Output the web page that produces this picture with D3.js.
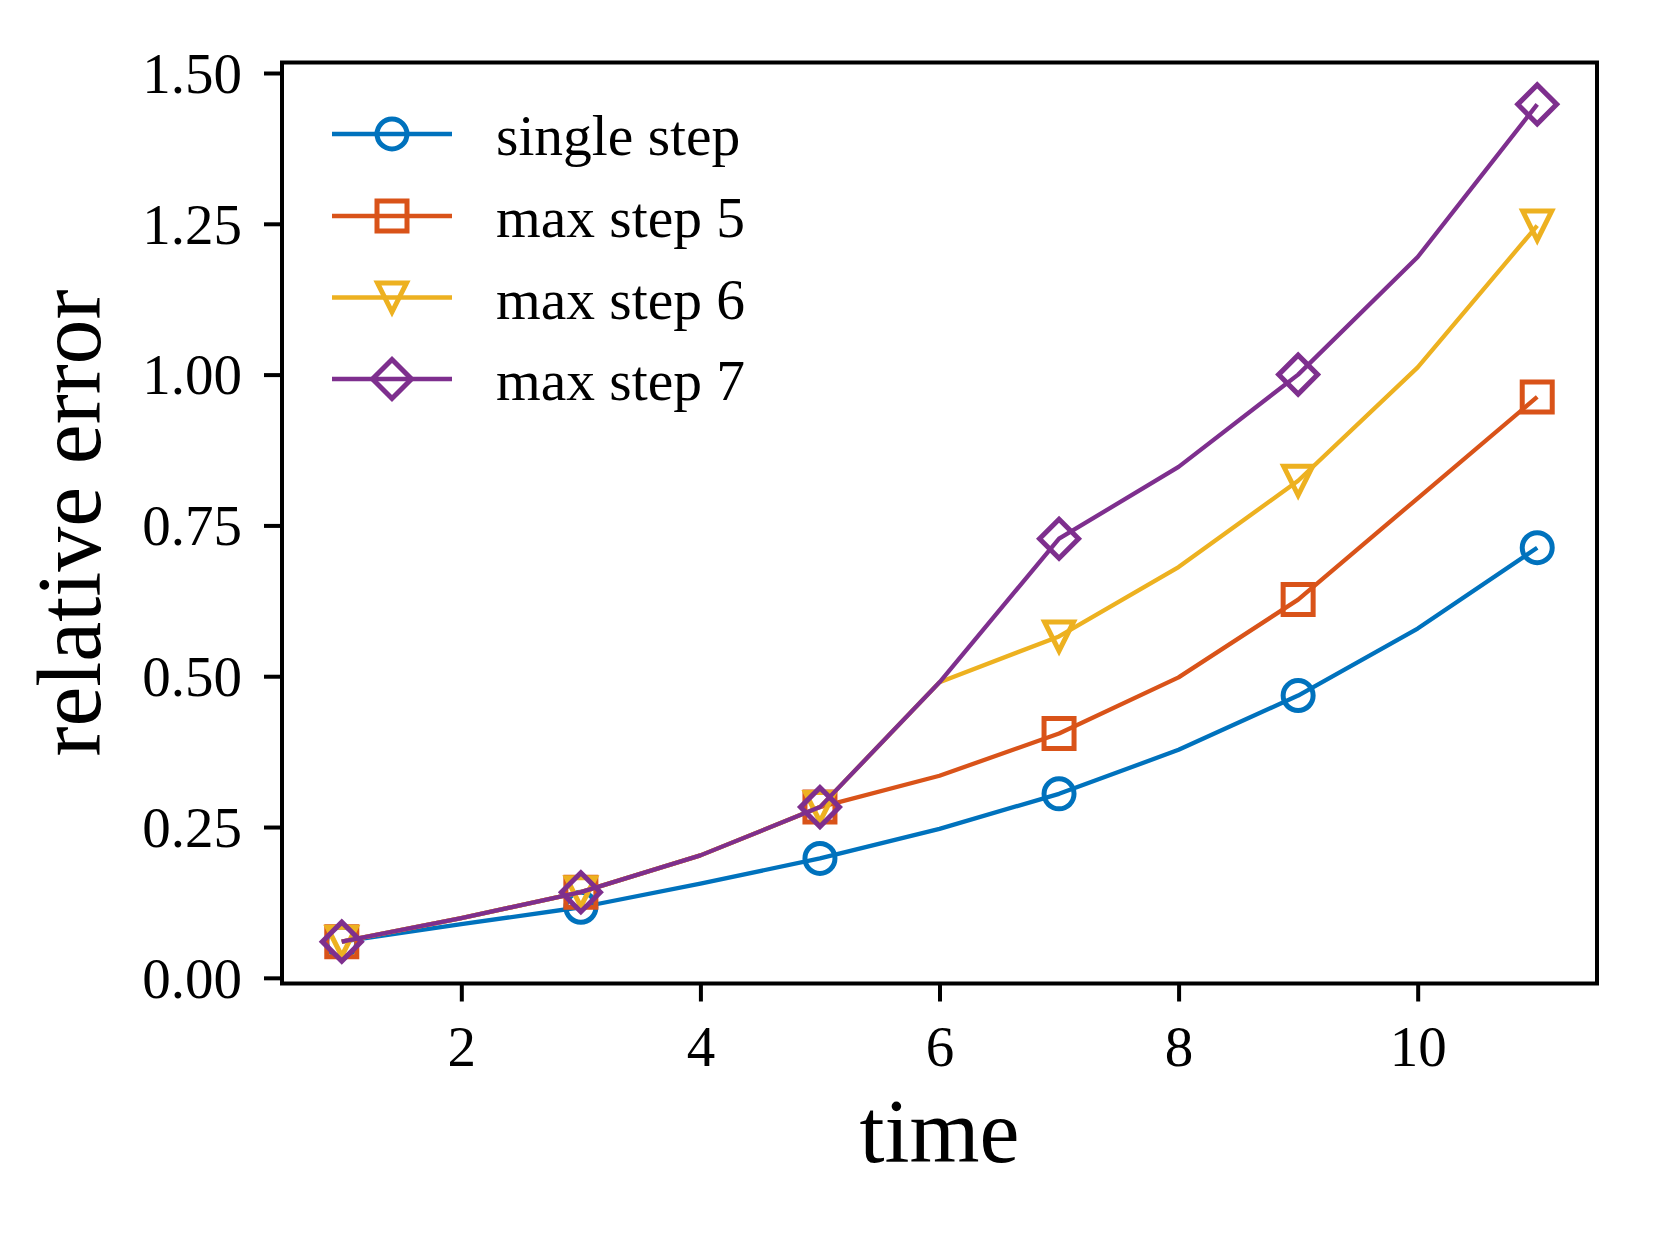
<!DOCTYPE html>
<html>
<head>
<meta charset="utf-8">
<script src="https://cdn.jsdelivr.net/npm/d3@7"></script>
<style>
  html, body { margin: 0; padding: 0; background: #fff; }
  svg { display: block; }
  text { font-family: "Liberation Serif", "Times New Roman", serif; fill: #000; }
</style>
</head>
<body>
<svg id="chart" width="1661" height="1246"></svg>
<script>
// ---- data ----
const time = [1, 2, 3, 4, 5, 6, 7, 8, 9, 10, 11];
const singleStep = [0.060, 0.089, 0.117, 0.156, 0.198, 0.247, 0.305, 0.378, 0.468, 0.579, 0.713];
const maxStep5   = [0.060, 0.099, 0.142, 0.203, 0.283, 0.335, 0.405, 0.498, 0.627, 0.795, 0.963];
const maxStep6   = [0.060, 0.099, 0.142, 0.203, 0.283, 0.490, 0.566, 0.681, 0.824, 1.012, 1.247];
const maxStep7   = [0.060, 0.099, 0.142, 0.203, 0.283, 0.490, 0.728, 0.847, 1.000, 1.195, 1.448];
const seriesNames = ["single step", "max step 5", "max step 6", "max step 7"];
const seriesColors = ["#0072BD", "#D95319", "#EDB120", "#7E2F8E"];
const seriesMarkers = ["circle", "square", "triangleDown", "diamond"];
const xTicks = [2, 4, 6, 8, 10];
const yTicks = [0.00, 0.25, 0.50, 0.75, 1.00, 1.25, 1.50];
const xLabel = "time";
const yLabel = "relative error";

const seriesValues = [singleStep, maxStep5, maxStep6, maxStep7];

// ---- layout ----
const svg = d3.select("#chart");
const plot = { left: 282, right: 1597, top: 62.5, bottom: 983.5 };

const x = d3.scaleLinear().domain([0.5, 11.5]).range([plot.left, plot.right]);
const allVals = seriesValues.flat();
const yMin = d3.min(allVals), yMax = d3.max(allVals), yPad = (yMax - yMin) * 0.05;
const y = d3.scaleLinear().domain([yMin - yPad, yMax + yPad]).range([plot.bottom, plot.top]);

const tickFont = 57;
const legendFont = 57.5;

// marker path generator
function markerPath(type) {
  if (type === "circle") {
    const r = 15;
    return `M${-r},0A${r},${r} 0 1,0 ${r},0A${r},${r} 0 1,0 ${-r},0Z`;
  }
  if (type === "square") {
    const h = 15;
    return `M${-h},${-h}L${h},${-h}L${h},${h}L${-h},${h}Z`;
  }
  if (type === "triangleDown") {
    const h = 14.5;
    return `M${-h},${-h}L${h},${-h}L0,${h}Z`;
  }
  if (type === "diamond") {
    const h = 19.5;
    return `M0,${-h}L${h},0L0,${h}L${-h},0Z`;
  }
}

const line = d3.line().x((d, i) => x(time[i])).y(d => y(d));

const gData = svg.append("g");
seriesValues.forEach((vals, si) => {
  const g = gData.append("g");
  g.append("path")
    .datum(vals)
    .attr("d", line)
    .attr("fill", "none")
    .attr("stroke", seriesColors[si])
    .attr("stroke-width", 4.3)
    .attr("stroke-linejoin", "round")
    .attr("stroke-linecap", "butt");
  g.selectAll("path.m")
    .data(vals.map((v, i) => ({ t: time[i], v })).filter((d, i) => i % 2 === 0))
    .join("path")
    .attr("class", "m")
    .attr("transform", d => `translate(${x(d.t)},${y(d.v)})`)
    .attr("d", markerPath(seriesMarkers[si]))
    .attr("fill", "none")
    .attr("stroke", seriesColors[si])
    .attr("stroke-width", 5)
    .attr("stroke-linejoin", "miter");
});

// axes
const yAxis = d3.axisLeft(y).tickValues(yTicks).tickFormat(d3.format(".2f")).tickSize(18).tickPadding(22);
const xAxis = d3.axisBottom(x).tickValues(xTicks).tickFormat(d3.format("d")).tickSize(18).tickPadding(24);

const gy = svg.append("g").attr("transform", `translate(${plot.left},0)`).call(yAxis);
const gx = svg.append("g").attr("transform", `translate(0,${plot.bottom})`).call(xAxis);
[gx, gy].forEach(g => {
  g.select(".domain").remove();
  g.selectAll(".tick line").attr("stroke", "#000").attr("stroke-width", 4);
  g.selectAll(".tick text").attr("font-size", tickFont).attr("font-family", "Liberation Serif").attr("fill", "#000");
});
gy.selectAll(".tick text").attr("dy", "0.34em");
gx.selectAll(".tick text").attr("dy", "0.71em");

// frame
svg.append("rect")
  .attr("x", plot.left).attr("y", plot.top)
  .attr("width", plot.right - plot.left).attr("height", plot.bottom - plot.top)
  .attr("fill", "none").attr("stroke", "#000").attr("stroke-width", 4);

// labels
svg.append("text")
  .attr("x", (plot.left + plot.right) / 2).attr("y", 1162)
  .attr("text-anchor", "middle").attr("font-size", 90)
  .text(xLabel);
svg.append("text")
  .attr("transform", `translate(100,${(plot.top + plot.bottom) / 2}) rotate(-90)`)
  .attr("text-anchor", "middle").attr("font-size", 90)
  .text(yLabel);

// legend
const legendRowY = [134, 216, 297.5, 379];
const lg = svg.append("g");
seriesNames.forEach((name, si) => {
  const ry = legendRowY[si];
  lg.append("line")
    .attr("x1", 332).attr("x2", 452).attr("y1", ry).attr("y2", ry)
    .attr("stroke", seriesColors[si]).attr("stroke-width", 4.3);
  lg.append("path")
    .attr("transform", `translate(392,${ry})`)
    .attr("d", markerPath(seriesMarkers[si]))
    .attr("fill", "none").attr("stroke", seriesColors[si]).attr("stroke-width", 5);
  lg.append("text")
    .attr("x", 496).attr("y", ry + 21)
    .attr("font-size", legendFont)
    .text(name);
});
</script>
</body>
</html>
